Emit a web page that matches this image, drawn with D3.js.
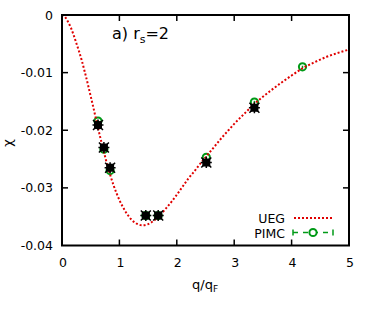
<!DOCTYPE html>
<html><head><meta charset="utf-8">
<script src="https://cdn.jsdelivr.net/npm/d3@7"></script>
<style>body{margin:0;background:#fff}svg{display:block}text{font-family:"DejaVu Sans",sans-serif}</style>
</head><body><svg id="c" width="374" height="309"></svg>
<script>
const ueg_q = [0,0.05,0.1,0.15,0.2,0.25,0.3,0.35,0.4,0.45,0.5,0.55,0.6,0.7,0.8,0.9,1.0,1.1,1.2,1.3,1.4,1.5,1.6,1.7,1.8,1.9,2.0,2.1,2.2,2.3,2.4,2.5,2.6,2.7,2.8,2.9,3.0,3.2,3.4,3.6,3.8,4.0,4.2,4.4,4.6,4.8,5.0];
const ueg_chi = [0,-0.0003,-0.0011,-0.0021,-0.0034,-0.0049,-0.0064,-0.0081,-0.0100,-0.0120,-0.0141,-0.0162,-0.0184,-0.0226,-0.0264,-0.0296,-0.0321,-0.0340,-0.0354,-0.0362,-0.0365,-0.0363,-0.0357,-0.0348,-0.0337,-0.0325,-0.0312,-0.0298,-0.0284,-0.0272,-0.0259,-0.0247,-0.0235,-0.0223,-0.0211,-0.0200,-0.0189,-0.0169,-0.0150,-0.0134,-0.0119,-0.0105,-0.0092,-0.0082,-0.0073,-0.0066,-0.0060];
const pimc_q = [0.627,0.73,0.838,1.46,1.676,2.514,3.352,4.19];
const pimc_chi = [-0.0184,-0.0233,-0.0270,-0.0348,-0.0348,-0.0247,-0.0151,-0.0090];
const pimc_err = [0.0002,0.0002,0.0002,0.0002,0.0002,0.0002,0.0002,0.0002];
const other_q = [0.627,0.73,0.838,1.46,1.676,2.514,3.352];
const other_chi = [-0.0191,-0.0230,-0.0265,-0.0348,-0.0348,-0.0256,-0.0161];
const xTicks = [0,1,2,3,4,5];
const yTicks = [0,-0.01,-0.02,-0.03,-0.04];

const svg = d3.select("#c");
const L=62,R=349,T=15,B=245.5;
const x = d3.scaleLinear().domain([0,5]).range([L,R]);
const y = d3.scaleLinear().domain([-0.04,0]).range([B,T]);
const red="#e00000", green="#009a17";

// ticks
const g = svg.append("g").attr("stroke","#000").attr("stroke-width",1.5);
xTicks.slice(1,-1).forEach(t=>{
  g.append("line").attr("x1",x(t)).attr("x2",x(t)).attr("y1",B).attr("y2",B-6);
  g.append("line").attr("x1",x(t)).attr("x2",x(t)).attr("y1",T).attr("y2",T+6);
});
yTicks.slice(1,-1).forEach(t=>{
  g.append("line").attr("x1",L).attr("x2",L+6).attr("y1",y(t)).attr("y2",y(t));
  g.append("line").attr("x1",R).attr("x2",R-6).attr("y1",y(t)).attr("y2",y(t));
});
xTicks.forEach(t=>svg.append("text").attr("x",x(t)+1).attr("y",B+21).attr("text-anchor","middle").attr("font-size",12.5).text(t));
yTicks.forEach(t=>svg.append("text").attr("x",L-9).attr("y",y(t)+4.5).attr("text-anchor","end").attr("font-size",12.5).text(t===0?"0":t.toFixed(2)));

// PIMC circles (under curve)
const pg = svg.append("g");
pimc_q.forEach((q,i)=>{
  const cx=x(q), cy=y(pimc_chi[i]);
  pg.append("line").attr("x1",cx).attr("x2",cx).attr("y1",y(pimc_chi[i]-pimc_err[i])).attr("y2",y(pimc_chi[i]+pimc_err[i])).attr("stroke",green).attr("stroke-width",1.5);
  pg.append("circle").attr("cx",cx).attr("cy",cy).attr("r",3.6).attr("fill","none").attr("stroke",green).attr("stroke-width",2);
});

// curve
const line = d3.line().x((d,i)=>x(ueg_q[i])).y(d=>y(d)).curve(d3.curveMonotoneX);
svg.append("path").attr("d",line(ueg_chi)).attr("fill","none").attr("stroke",red).attr("stroke-width",2).attr("stroke-dasharray","2,2");

// other markers (black)
other_q.forEach((q,i)=>{
  const cx=x(q), cy=y(other_chi[i]);
  const m=svg.append("g").attr("transform",`translate(${cx},${cy})`);
  m.append("rect").attr("x",-4).attr("y",-4).attr("width",8).attr("height",8).attr("fill","#000");
  m.append("path").attr("d","M-5,-5L5,5M-5,5L5,-5M0,-5.5V5.5M-5.5,0H5.5").attr("stroke","#000").attr("stroke-width",1.5);
});

// frame
svg.append("rect").attr("x",L).attr("y",T).attr("width",R-L).attr("height",B-T).attr("fill","none").attr("stroke","#000").attr("stroke-width",2);

// title
const tt=svg.append("text").attr("x",112).attr("y",39).attr("font-size",16);
tt.append("tspan").text("a) r");
tt.append("tspan").attr("font-size",11).attr("dy",4).text("s");
tt.append("tspan").attr("dy",-4).text("=2");

// axis labels
const xl=svg.append("text").attr("x",192).attr("y",289).attr("font-size",13);
xl.append("tspan").text("q/q");
xl.append("tspan").attr("font-size",9).attr("dy",3).text("F");
svg.append("text").attr("transform","translate(8,143) rotate(-90)").attr("text-anchor","middle").attr("dominant-baseline","middle").attr("font-size",13).text("χ");

// legend
svg.append("text").attr("x",285).attr("y",223).attr("text-anchor","end").attr("font-size",12.5).text("UEG");
svg.append("text").attr("x",285).attr("y",237.5).attr("text-anchor","end").attr("font-size",12.5).text("PIMC");
svg.append("line").attr("x1",294).attr("x2",333).attr("y1",218).attr("y2",218).attr("stroke",red).attr("stroke-width",2).attr("stroke-dasharray","2,2");
const ly=232.5;
svg.append("line").attr("x1",293).attr("x2",333).attr("y1",ly).attr("y2",ly).attr("stroke",green).attr("stroke-width",1.5).attr("stroke-dasharray","5,5");
svg.append("line").attr("x1",293).attr("x2",293).attr("y1",ly-3).attr("y2",ly+3).attr("stroke",green).attr("stroke-width",1.5);
svg.append("line").attr("x1",333).attr("x2",333).attr("y1",ly-3).attr("y2",ly+3).attr("stroke",green).attr("stroke-width",1.5);
svg.append("circle").attr("cx",313).attr("cy",ly).attr("r",3.6).attr("fill","#fff").attr("stroke",green).attr("stroke-width",2);
</script></body></html>
